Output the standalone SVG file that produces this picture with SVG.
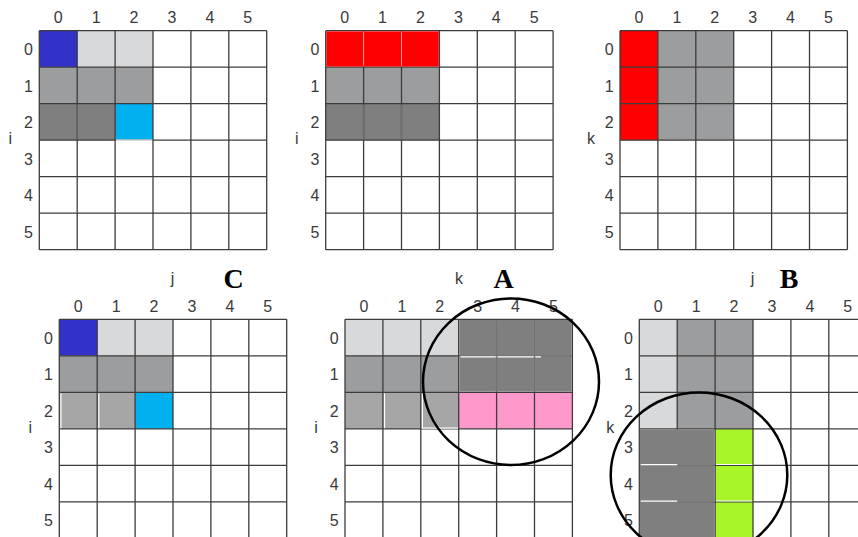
<svg xmlns="http://www.w3.org/2000/svg" width="858" height="537" viewBox="0 0 858 537">
<defs>
<style>
.bg{fill:#ffffff}
.blue{fill:#3232c8}
.lg{fill:#d8d9db}
.mg{fill:#9c9d9f}
.mg2{fill:#a6a6a6}
.dg{fill:#7f7f7f}
.cy{fill:#00b0ef}
.red{fill:#ff0000}
.pink{fill:#ff99cc}
.grn{fill:#a8f52a}
.grid{stroke:#3c3c3c;stroke-width:1.3;fill:none}
.wl{stroke:#ffffff;stroke-width:1.2;fill:none}
.fl{stroke:#727272;stroke-width:1;fill:none}
.rl{stroke:#f4c8c8;stroke-width:0.8;fill:none}
.lbl{font-family:"Liberation Sans",Arial,sans-serif;font-size:16px;fill:#3a3a3a;text-anchor:middle}
.ttl{font-family:"Liberation Serif","Times New Roman",serif;font-size:28px;font-weight:bold;fill:#000000;text-anchor:middle}
.circ{fill:none;stroke:#000000;stroke-width:2.5}
</style>
<g id="gridlines">
<path class="grid" d="M0,0V219M37.9,0V219M75.8,0V219M113.7,0V219M151.6,0V219M189.5,0V219M227.4,0V219M0,0H227.4M0,36.5H227.4M0,73H227.4M0,109.5H227.4M0,146H227.4M0,182.5H227.4M0,219H227.4"/>
</g>
<g id="collabels">
<text class="lbl" x="18.95" y="-7.3">0</text>
<text class="lbl" x="56.85" y="-7.3">1</text>
<text class="lbl" x="94.75" y="-7.3">2</text>
<text class="lbl" x="132.65" y="-7.3">3</text>
<text class="lbl" x="170.55" y="-7.3">4</text>
<text class="lbl" x="208.45" y="-7.3">5</text>
</g>
<g id="rowlabels">
<text class="lbl" x="-10.8" y="24.5">0</text>
<text class="lbl" x="-10.8" y="61">1</text>
<text class="lbl" x="-10.8" y="97.5">2</text>
<text class="lbl" x="-10.8" y="134">3</text>
<text class="lbl" x="-10.8" y="170.5">4</text>
<text class="lbl" x="-10.8" y="207">5</text>
</g>
</defs>
<rect class="bg" x="0" y="0" width="858" height="537"/>

<g id="grid-top-left" transform="translate(39.3,30.7)">
<rect class="blue" x="0" y="0" width="37.9" height="36.5"/>
<rect class="lg" x="37.9" y="0" width="75.8" height="36.5"/>
<rect class="mg" x="0" y="36.5" width="113.7" height="36.5"/>
<rect class="dg" x="0" y="73" width="75.8" height="36.5"/>
<rect class="cy" x="75.8" y="73" width="37.9" height="36.5"/>
<use href="#gridlines"/>
<path class="fl" d="M37.9,74V109"/>
<path class="wl" d="M76.6,109.5H113"/>
<use href="#collabels"/>
<use href="#rowlabels"/>
<text class="lbl" x="-29" y="113">i</text>
</g>

<g id="grid-top-middle" transform="translate(325.7,30.7)">
<rect class="mg" x="0" y="36.5" width="113.7" height="36.5"/>
<rect class="dg" x="0" y="73" width="113.7" height="36.5"/>
<use href="#gridlines"/>
<rect class="red" x="0.65" y="0.65" width="112.4" height="35.2"/>
<path class="rl" d="M37.9,1V35.5M75.8,1V35.5"/>
<path class="fl" d="M37.9,74V109M75.8,74V109"/>
<use href="#collabels"/>
<use href="#rowlabels"/>
<text class="lbl" x="-29" y="113">i</text>
</g>

<g id="grid-top-right" transform="translate(620,30.7)">
<rect class="red" x="0" y="0" width="37.9" height="109.5"/>
<rect class="mg" x="37.9" y="0" width="75.8" height="109.5"/>
<use href="#gridlines"/>
<use href="#collabels"/>
<use href="#rowlabels"/>
<text class="lbl" x="-29" y="113">k</text>
</g>

<g id="titles">
<text class="lbl" x="172.5" y="283.5">j</text>
<text class="ttl" x="233.7" y="287.5">C</text>
<text class="lbl" x="459" y="283.5">k</text>
<text class="ttl" x="503.7" y="287.5">A</text>
<text class="lbl" x="752.5" y="283.5">j</text>
<text class="ttl" x="789" y="287.5">B</text>
</g>

<g id="grid-bottom-left" transform="translate(59.3,319.3)">
<rect class="blue" x="0" y="0" width="37.9" height="36.5"/>
<rect class="lg" x="37.9" y="0" width="75.8" height="36.5"/>
<rect class="mg" x="0" y="36.5" width="113.7" height="36.5"/>
<rect class="mg2" x="0" y="73" width="75.8" height="36.5"/>
<rect class="cy" x="75.8" y="73" width="37.9" height="36.5"/>
<use href="#gridlines"/>
<path class="wl" d="M1.6,74V109M39.5,74V109"/>
<use href="#collabels"/>
<use href="#rowlabels"/>
<text class="lbl" x="-29" y="114">i</text>
</g>

<g id="grid-bottom-middle" transform="translate(345,319.3)">
<rect class="lg" x="0" y="0" width="113.7" height="36.5"/>
<rect class="mg" x="0" y="36.5" width="113.7" height="36.5"/>
<rect class="mg2" x="0" y="73" width="113.7" height="36.5"/>
<rect class="pink" x="113.7" y="73" width="113.7" height="36.5"/>
<use href="#gridlines"/>
<rect class="dg" x="114.35" y="0.65" width="112.4" height="71.7"/>
<path class="fl" d="M151.6,1V72M189.5,1V72M115,36.5H226.8"/>
<path class="wl" d="M115.5,37.6H150.8M152.4,37.6H188.7M190.3,37.6H196"/>
<path class="wl" d="M39.5,74V109M77.4,74V109M76.6,108.8H113"/>
<use href="#collabels"/>
<use href="#rowlabels"/>
<text class="lbl" x="-29" y="114">i</text>
</g>

<g id="grid-bottom-right" transform="translate(639.3,319.3)">
<rect class="lg" x="0" y="0" width="37.9" height="109.5"/>
<rect class="mg" x="37.9" y="0" width="75.8" height="109.5"/>
<rect class="grn" x="75.8" y="109.5" width="37.9" height="109.5"/>
<use href="#gridlines"/>
<rect class="dg" x="0.65" y="110.15" width="74.5" height="108.9"/>
<path class="wl" d="M1.5,145.4H37.9M1.5,181.9H37.9M76.6,145.2H113M76.6,181.7H113"/>
<path class="fl" d="M38.5,146.5H74.5M38.5,183H74.5"/>
<use href="#collabels"/>
<use href="#rowlabels"/>
<text class="lbl" x="-29" y="114">k</text>
</g>

<g id="circle-A">
<ellipse class="circ" cx="511" cy="381.7" rx="88" ry="83.3"/>
</g>
<g id="circle-B">
<ellipse class="circ" cx="699" cy="475" rx="88.3" ry="82.5"/>
</g>
</svg>
